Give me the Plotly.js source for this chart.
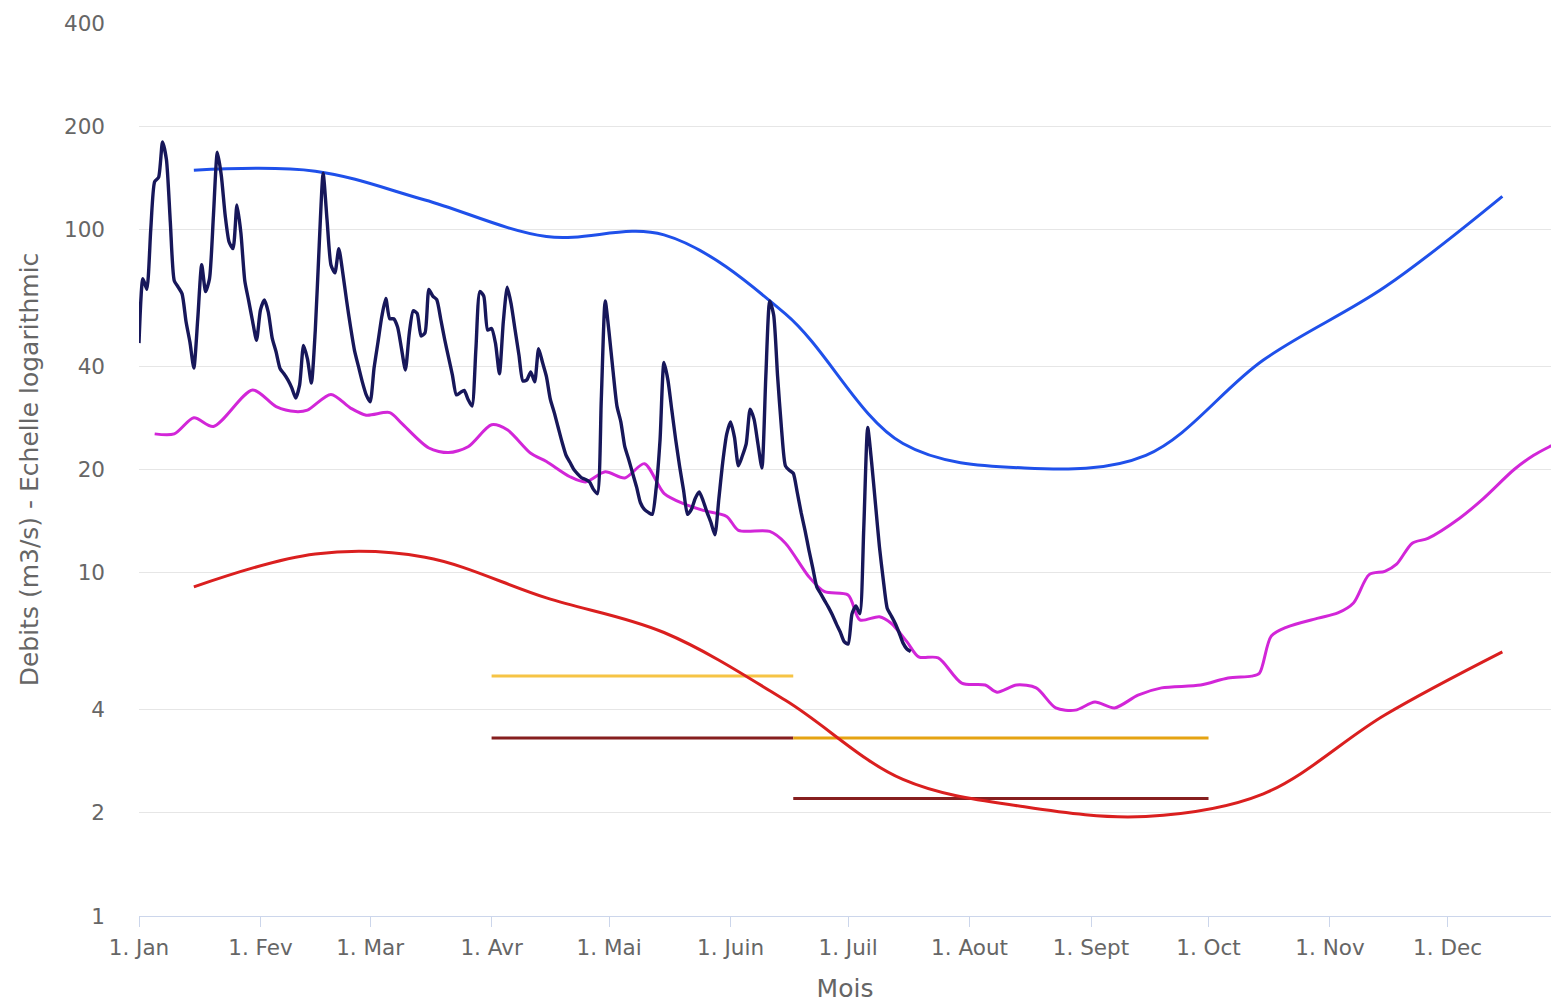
<!DOCTYPE html>
<html>
<head>
<meta charset="utf-8">
<script src="https://cdn.plot.ly/plotly-3.0.1.min.js"></script>
<style>
  html, body { margin: 0; padding: 0; background: #ffffff; }
  #chart { width: 1551px; height: 1003px; }
</style>
</head>
<body>
<div id="chart"></div>
<script>
// ---------- DATA ----------
const monthTickDates = ['2023-01-01','2023-02-01','2023-03-01','2023-04-01','2023-05-01','2023-06-01',
                        '2023-07-01','2023-08-01','2023-09-01','2023-10-01','2023-11-01','2023-12-01'];
const monthTickLabels = ['1. Jan','1. Fev','1. Mar','1. Avr','1. Mai','1. Juin',
                         '1. Juil','1. Aout','1. Sept','1. Oct','1. Nov','1. Dec'];
const yTickValues = [1, 2, 4, 10, 20, 40, 100, 200, 400];
const yTickLabels = ['1', '2', '4', '10', '20', '40', '100', '200', '400'];

// Observed daily flow, 1 Jan -> 17 Jul
const observedStart = '2023-01-01';
const observedJan = [46.7, 72, 67, 100, 138, 142, 180, 160, 105, 71, 68, 65, 54, 47, 39.5, 55, 79, 66, 72, 110,
                     168, 144, 110, 92, 88, 118, 98, 71, 62, 54, 47.6];
const observedFeb = [58.3, 62.4, 57.5, 48.3, 44, 39.4, 38, 36.5, 34.6, 32.3, 35.3, 46, 42, 35.7, 51, 90, 146, 106.7,
                     78.9, 74.8, 88, 75, 62, 52, 44.5, 40, 36, 33];
const observedMar = [31.5, 39.5, 47, 56, 63, 55, 55, 52, 45, 39, 50, 58, 57, 49, 50, 67, 64, 62.5, 55, 48,
                     42.5, 37.7, 33, 33.5, 34, 32, 30.6, 45, 66, 64, 51];
const observedApr = [51.5, 46.6, 38, 54, 68, 60.6, 51, 43, 36.2, 36.5, 38.5, 36, 45, 41, 37.3, 32, 29.3, 26.5, 24, 22,
                     21, 20, 19.4, 18.9, 18.7, 18.4, 17.5, 17, 32, 62];
const observedMay = [50, 38.7, 30.6, 27.5, 23.3, 21.4, 19.5, 17.8, 16, 15.3, 15, 14.8, 17.6, 24.4, 41, 36.5,
                     29.8, 24.4, 20.4, 17.4, 14.8, 15.3, 16.5, 17.2, 16.2, 15, 14, 12.9, 16.4, 21, 25.3];
const observedJun = [27.5, 24.8, 20.5, 21.9, 23.8, 30, 28, 23.7, 20.2, 37.4, 62, 56.4, 37.4, 26.3, 20.5, 19.9,
                     19.5, 17.2, 15, 13.3, 11.65, 10.3, 9.1, 8.7, 8.3, 7.93, 7.53, 7.1, 6.72, 6.3];
const observedJul = [6.2, 7.6, 8.0, 7.6, 13.5, 26.5, 21, 15.8, 11.9, 9.5, 7.87, 7.5, 7.13, 6.7, 6.25, 6.0, 5.9];

// Median daily flow (magenta)
const medianDates = ['2023-01-05','2023-01-10','2023-01-15','2023-01-20','2023-01-30','2023-02-05','2023-02-10',
  '2023-02-13','2023-02-19','2023-02-24','2023-02-28','2023-03-06','2023-03-09','2023-03-16','2023-03-21',
  '2023-03-26','2023-04-01','2023-04-05','2023-04-11','2023-04-15','2023-04-21','2023-04-25','2023-04-30',
  '2023-05-05','2023-05-10','2023-05-15','2023-05-20','2023-05-25','2023-05-31','2023-06-03','2023-06-11',
  '2023-06-15','2023-06-21','2023-06-25','2023-07-01','2023-07-04','2023-07-09','2023-07-12','2023-07-16',
  '2023-07-19','2023-07-24','2023-07-30','2023-08-05','2023-08-08','2023-08-13','2023-08-18','2023-08-23',
  '2023-08-28','2023-09-02','2023-09-07','2023-09-13','2023-09-19','2023-09-29','2023-10-06','2023-10-12',
  '2023-10-14','2023-10-17','2023-10-21','2023-10-29','2023-11-03','2023-11-07','2023-11-11','2023-11-15',
  '2023-11-18','2023-11-22','2023-11-26','2023-12-04','2023-12-10','2023-12-18','2023-12-23','2023-12-27',
  '2023-12-31'];
const medianValues = [25.4, 25.4, 28.3, 26.7, 34.1, 30.5, 29.5, 29.8, 33.1, 30.2, 28.8, 29.3, 27.3, 23.1, 22.4,
  23.3, 27.0, 26.1, 22.3, 21.1, 19.05, 18.4, 19.7, 18.9, 20.8, 17.05, 15.9, 15.2, 14.6, 13.3, 13.2, 12.2, 9.74,
  8.81, 8.62, 7.29, 7.45, 7.13, 6.3, 5.69, 5.65, 4.77, 4.71, 4.49, 4.71, 4.62, 4.04, 3.98, 4.2, 4.04, 4.4, 4.62,
  4.71, 4.94, 5.0, 5.1, 6.54, 6.95, 7.38, 7.64, 8.17, 9.88, 10.1, 10.6, 12.2, 12.6, 14.4, 16.4, 20.0, 22.0, 23.3,
  24.5];

// Monthly curves (mid-month)
const monthlyDates = ['2023-01-15','2023-02-15','2023-03-15','2023-04-15','2023-05-15','2023-06-15',
                      '2023-07-15','2023-08-15','2023-09-15','2023-10-15','2023-11-15','2023-12-15'];
const monthlyHigh = [149, 148, 122, 95.5, 96.5, 56.8, 23.8, 20.2, 22, 41.7, 68, 125];
const monthlyLow  = [9.1, 11.35, 11.1, 8.45, 6.7, 4.25, 2.5, 2.08, 1.95, 2.27, 3.85, 5.88];

// Threshold segments
const springDates = ['2023-04-01', '2023-06-17'];
const summerDates = ['2023-06-17', '2023-10-01'];
const springAlert = 5.0;
const springCrisis = 3.3;
const summerAlert = 3.3;
const summerCrisis = 2.2;

// ---------- BUILD ----------
const observedValues = [].concat(observedJan, observedFeb, observedMar, observedApr, observedMay, observedJun, observedJul);
function dayDate(start, i) {
  const p = start.split('-').map(Number);
  const d = new Date(Date.UTC(p[0], p[1] - 1, p[2] + i));
  return d.toISOString().slice(0, 10);
}
const observedDates = observedValues.map((v, i) => dayDate(observedStart, i));

const traces = [
  { x: springDates, y: [springAlert, springAlert], mode: 'lines', line: { color: '#f6c445', width: 3 }, hoverinfo: 'skip' },
  { x: springDates, y: [springCrisis, springCrisis], mode: 'lines', line: { color: '#861f1f', width: 3 }, hoverinfo: 'skip' },
  { x: summerDates, y: [summerCrisis, summerCrisis], mode: 'lines', line: { color: '#861f1f', width: 3 }, hoverinfo: 'skip' },
  { x: summerDates, y: [summerAlert, summerAlert], mode: 'lines', line: { color: '#e5a312', width: 3 }, hoverinfo: 'skip' },
  { x: monthlyDates, y: monthlyLow, mode: 'lines', line: { color: '#da1f1f', width: 3, shape: 'spline', smoothing: 1 } },
  { x: medianDates, y: medianValues, mode: 'lines', line: { color: '#d226d8', width: 3, shape: 'spline', smoothing: 0.8 } },
  { x: monthlyDates, y: monthlyHigh, mode: 'lines', line: { color: '#1f50ea', width: 3, shape: 'spline', smoothing: 1 } },
  { x: observedDates, y: observedValues, mode: 'lines', line: { color: '#17175a', width: 3.4, shape: 'spline', smoothing: 0.6 } }
];

const layout = {
  width: 1551, height: 1003,
  margin: { l: 139, r: 0, t: 23, b: 87 },
  paper_bgcolor: '#ffffff', plot_bgcolor: '#ffffff',
  showlegend: false,
  font: { family: 'DejaVu Sans', color: '#666666' },
  xaxis: {
    type: 'date',
    range: ['2023-01-01', '2023-12-27 10:00'],
    tickvals: monthTickDates,
    ticktext: monthTickLabels,
    ticks: 'outside', ticklen: 10, tickcolor: '#ccd6eb', tickwidth: 1,
    showline: true, linecolor: '#ccd6eb', linewidth: 1,
    showgrid: false, zeroline: false,
    ticklabelstandoff: 2,
    tickfont: { family: 'DejaVu Sans', size: 21.5, color: '#666666' },
    title: { text: 'Mois', font: { family: 'DejaVu Sans', size: 25, color: '#666666' }, standoff: 24 },
    automargin: false
  },
  yaxis: {
    type: 'log',
    range: [0, Math.log10(400)],
    tickvals: yTickValues,
    ticktext: yTickLabels,
    ticks: '', showline: false, zeroline: false,
    showgrid: true, gridcolor: '#e6e6e6', gridwidth: 1,
    ticklabelstandoff: 33,
    tickfont: { family: 'DejaVu Sans', size: 21.5, color: '#666666' },
    title: { text: 'Debits (m3/s) - Echelle logarithmic', font: { family: 'DejaVu Sans', size: 25, color: '#666666' }, standoff: 18 },
    automargin: false
  }
};

Plotly.newPlot('chart', traces, layout, { displayModeBar: false, staticPlot: true });
</script>
</body>
</html>
